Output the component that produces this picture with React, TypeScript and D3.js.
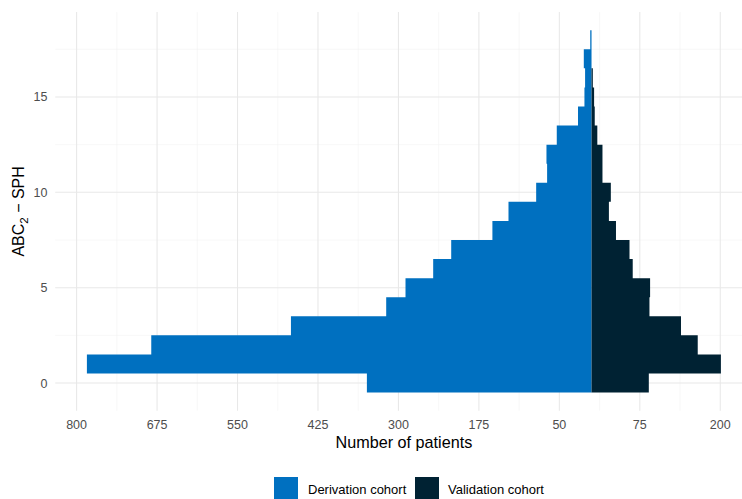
import React from "react";
import * as d3 from "d3";

const scores = [0, 1, 2, 3, 4, 5, 6, 7, 8, 9, 10, 11, 12, 13, 14, 15, 16, 17, 18];
const derivation = [349, 784, 684, 467, 319, 289, 246, 218, 154, 129, 86, 69, 70, 54, 21, 11, 10, 12, 2];
const validation = [89, 201, 165, 139, 90, 91, 64, 59, 38, 27, 30, 17, 17, 9, 5, 4, 2, 0, 0];
const xTicks = [-800, -675, -550, -425, -300, -175, -50, 75, 200];
const yTicks = [0, 5, 10, 15];
const seriesNames = ["Derivation cohort", "Validation cohort"];
const colors = ["#0070C0", "#002233"];

const W = 742;
const H = 499;
const FONT = "'Liberation Sans', Arial, Helvetica, sans-serif";

export default function App() {
  const xMin = -d3.max(derivation)!;
  const xMax = d3.max(validation)!;
  const xPad = (xMax - xMin) * 0.05;
  const yLo = -0.5, yHi = 18.5;
  const yPad = (yHi - yLo) * 0.05;

  const x = d3.scaleLinear().domain([xMin - xPad, xMax + xPad]).range([55.2, 752.6]);
  const y = d3.scaleLinear().domain([yLo - yPad, yHi + yPad]).range([410.7, 12.1]);

  const [px0, px1] = x.range();
  const [py0, py1] = [y.range()[1], y.range()[0]];

  const xMinor = xTicks.slice(0, -1).map((t, i) => (t + xTicks[i + 1]) / 2);
  xMinor.push(xTicks[xTicks.length - 1] + 62.5);
  xMinor.unshift(xTicks[0] - 62.5);
  const yMinor = [-2.5, 2.5, 7.5, 12.5, 17.5];
  const inX = (v: number) => v >= x.domain()[0] && v <= x.domain()[1];
  const inY = (v: number) => v >= y.domain()[0] && v <= y.domain()[1];

  // Build each series as one outline path (stacked bins of width 1) so no seams appear
  const seriesPath = (vals: number[], sign: number) => {
    const p = d3.path();
    const x0 = x(0);
    p.moveTo(x0, y(scores[0] - 0.5));
    scores.forEach((s, i) => {
      const xv = x(sign * vals[i]);
      p.lineTo(xv, y(s - 0.5));
      p.lineTo(xv, y(s + 0.5));
    });
    p.lineTo(x0, y(scores[scores.length - 1] + 0.5));
    p.closePath();
    return p.toString();
  };

  return (
    <svg
      width={W}
      height={H}
      style={{ position: "absolute", left: 0, top: 0, display: "block", background: "#fff" }}
      fontFamily={FONT}
    >
      <rect x={0} y={0} width={W} height={H} fill="#fff" />
      {/* minor grid */}
      {xMinor.filter(inX).map((t) => (
        <line key={"xm" + t} x1={x(t)} x2={x(t)} y1={py0} y2={py1} stroke="#f2f2f2" strokeWidth={0.55} />
      ))}
      {yMinor.filter(inY).map((t) => (
        <line key={"ym" + t} x1={px0} x2={px1} y1={y(t)} y2={y(t)} stroke="#f2f2f2" strokeWidth={0.55} />
      ))}
      {/* major grid */}
      {xTicks.map((t) => (
        <line key={"xg" + t} x1={x(t)} x2={x(t)} y1={py0} y2={py1} stroke="#e8e8e8" strokeWidth={1.07} />
      ))}
      {yTicks.map((t) => (
        <line key={"yg" + t} x1={px0} x2={px1} y1={y(t)} y2={y(t)} stroke="#e8e8e8" strokeWidth={1.07} />
      ))}
      {/* bars */}
      <path d={seriesPath(derivation, -1)} fill={colors[0]} />
      <path d={seriesPath(validation, 1)} fill={colors[1]} />
      {/* x tick labels */}
      {xTicks.map((t) => (
        <text key={"xt" + t} x={x(t)} y={429} textAnchor="middle" fontSize={12.5} fill="#4d4d4d">
          {Math.abs(t)}
        </text>
      ))}
      {/* y tick labels */}
      {yTicks.map((t) => (
        <text key={"yt" + t} x={47.5} y={y(t)} dy="0.36em" textAnchor="end" fontSize={12.5} fill="#4d4d4d">
          {t}
        </text>
      ))}
      {/* axis titles */}
      <text x={(px0 + px1) / 2} y={448} textAnchor="middle" fontSize={16.2} fill="#000">
        Number of patients
      </text>
      <text
        transform={`translate(23.5,${(py0 + py1) / 2}) rotate(-90)`}
        textAnchor="middle"
        fontSize={16}
        fill="#000"
      >
        ABC
        <tspan fontSize={11.5} dy={4}>2</tspan>
        <tspan dy={-4}>{" \u2212 SPH"}</tspan>
      </text>
      {/* legend */}
      <rect x={274} y={477} width={24} height={24} fill={colors[0]} />
      <text x={308} y={494} fontSize={13} fill="#000">{seriesNames[0]}</text>
      <rect x={415} y={477} width={24} height={24} fill={colors[1]} />
      <text x={448} y={494} fontSize={13} fill="#000">{seriesNames[1]}</text>
    </svg>
  );
}
